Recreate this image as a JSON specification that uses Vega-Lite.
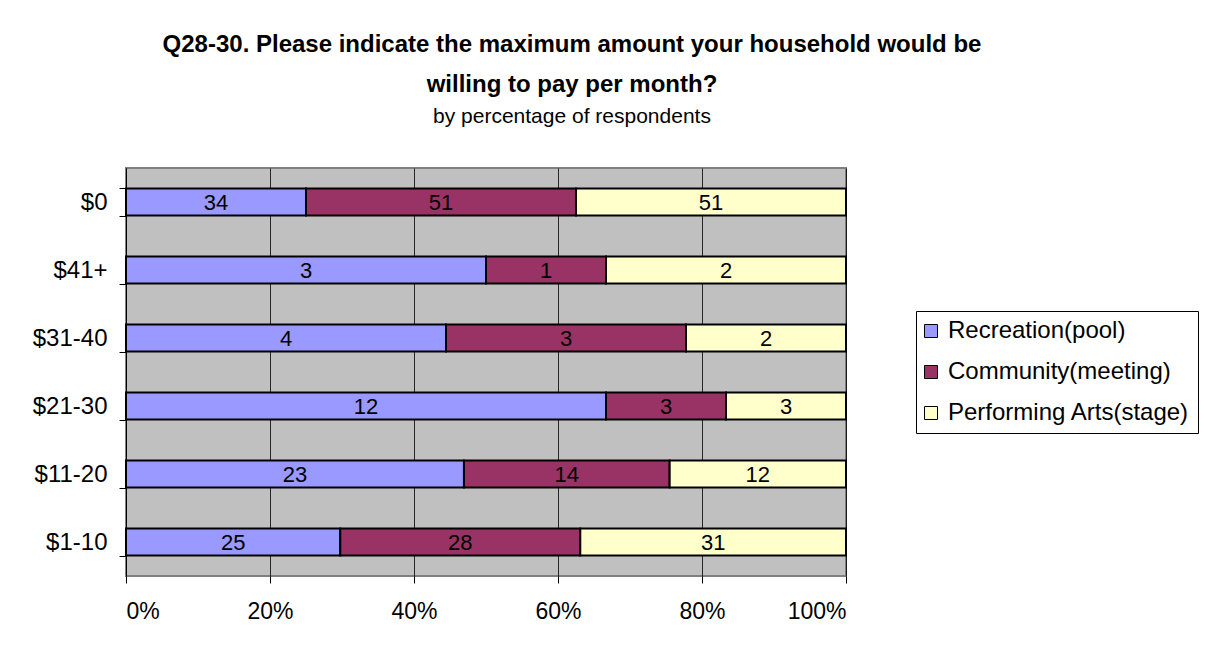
{
  "$schema": "https://vega.github.io/schema/vega-lite/v6.json",
  "autosize": "none",
  "width": 720,
  "height": 408,
  "padding": {"left": 126, "top": 168, "right": 364, "bottom": 72},
  "background": "white",
  "title": {
    "text": ["Q28-30. Please indicate the maximum amount your household would be", "willing to pay per month?"],
    "subtitle": "by percentage of respondents",
    "anchor": "middle",
    "frame": "group",
    "dx": 86,
    "offset": 29,
    "font": "Liberation Sans",
    "fontSize": 24,
    "fontWeight": "bold",
    "lineHeight": 40,
    "color": "black",
    "subtitleFont": "Liberation Sans",
    "subtitleFontSize": 21,
    "subtitleColor": "black",
    "subtitlePadding": 9
  },
  "data": {
    "values": [
      {"range": "$0", "facility": "Recreation(pool)", "count": 34},
      {"range": "$0", "facility": "Community(meeting)", "count": 51},
      {"range": "$0", "facility": "Performing Arts(stage)", "count": 51},
      {"range": "$41+", "facility": "Recreation(pool)", "count": 3},
      {"range": "$41+", "facility": "Community(meeting)", "count": 1},
      {"range": "$41+", "facility": "Performing Arts(stage)", "count": 2},
      {"range": "$31-40", "facility": "Recreation(pool)", "count": 4},
      {"range": "$31-40", "facility": "Community(meeting)", "count": 3},
      {"range": "$31-40", "facility": "Performing Arts(stage)", "count": 2},
      {"range": "$21-30", "facility": "Recreation(pool)", "count": 12},
      {"range": "$21-30", "facility": "Community(meeting)", "count": 3},
      {"range": "$21-30", "facility": "Performing Arts(stage)", "count": 3},
      {"range": "$11-20", "facility": "Recreation(pool)", "count": 23},
      {"range": "$11-20", "facility": "Community(meeting)", "count": 14},
      {"range": "$11-20", "facility": "Performing Arts(stage)", "count": 12},
      {"range": "$1-10", "facility": "Recreation(pool)", "count": 25},
      {"range": "$1-10", "facility": "Community(meeting)", "count": 28},
      {"range": "$1-10", "facility": "Performing Arts(stage)", "count": 31}
    ]
  },
  "transform": [
    {"calculate": "indexof(['Recreation(pool)','Community(meeting)','Performing Arts(stage)'], datum.facility)", "as": "order"},
    {"stack": "count", "groupby": ["range"], "sort": [{"field": "order", "order": "ascending"}], "offset": "normalize", "as": ["x0", "x1"]},
    {"calculate": "(datum.x0 + datum.x1) / 2", "as": "xmid"}
  ],
  "encoding": {
    "y": {
      "field": "range",
      "type": "nominal",
      "sort": ["$0", "$41+", "$31-40", "$21-30", "$11-20", "$1-10"],
      "scale": {"paddingInner": 0.6, "paddingOuter": 0.3},
      "axis": {
        "title": null,
        "domainColor": "black",
        "tickColor": "black",
        "tickSize": 7,
        "tickBand": "extent",
        "labelFont": "Liberation Sans",
        "labelFontSize": 24,
        "labelColor": "black",
        "labelPadding": 12,
        "grid": false
      }
    }
  },
  "layer": [
    {
      "mark": {"type": "bar", "stroke": "black", "strokeWidth": 2},
      "encoding": {
        "x": {
          "field": "x0",
          "type": "quantitative",
          "scale": {"domain": [0, 1], "nice": false},
          "axis": {
            "title": null,
            "format": ".0%",
            "values": [0, 0.2, 0.4, 0.6, 0.8, 1],
            "grid": true,
            "gridColor": "black",
            "gridOpacity": 0.8,
            "domain": false,
            "tickColor": "black",
            "tickSize": 7,
            "labelFont": "Liberation Sans",
            "labelFontSize": 23,
            "labelColor": "black",
            "labelPadding": 17
          }
        },
        "x2": {"field": "x1"},
        "color": {
          "field": "facility",
          "type": "nominal",
          "sort": ["Recreation(pool)", "Community(meeting)", "Performing Arts(stage)"],
          "scale": {"range": ["#9999FF", "#993366", "#FFFFCC"]},
          "legend": {
            "title": null,
            "orient": "none",
            "legendX": 790,
            "legendY": 143,
            "symbolType": "square",
            "symbolSize": 169,
            "symbolOffset": -5,
            "symbolStrokeColor": "black",
            "symbolStrokeWidth": 1,
            "symbolOpacity": 1,
            "labelFont": "Liberation Sans",
            "labelFontSize": 24,
            "labelColor": "black",
            "labelLimit": 400,
            "labelOffset": 5,
            "rowPadding": 17,
            "strokeColor": "black",
            "fillColor": "white",
            "padding": 8
          }
        }
      }
    },
    {
      "mark": {"type": "text", "font": "Liberation Sans", "fontSize": 22, "color": "black", "align": "center", "baseline": "middle", "dy": 1},
      "encoding": {
        "x": {"field": "xmid", "type": "quantitative"},
        "text": {"field": "count", "type": "quantitative"}
      }
    }
  ],
  "config": {
    "view": {"fill": "#C0C0C0", "stroke": "#808080", "strokeWidth": 2}
  }
}
